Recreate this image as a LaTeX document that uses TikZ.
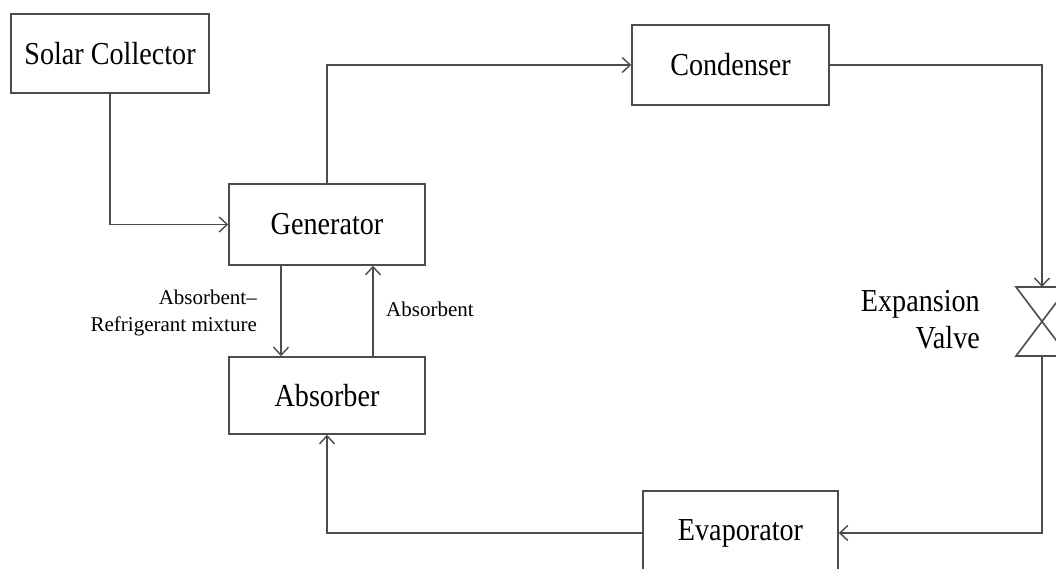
\documentclass[tikz,border=0pt]{standalone}
\usepackage{fontspec}
\setmainfont{Liberation Serif}
\usetikzlibrary{arrows.meta}
\newcommand{\mtx}[1]{\scalebox{0.88}[1]{\fontsize{32}{36}\selectfont #1}}
\newcommand{\stx}[1]{{\fontsize{21}{27}\selectfont #1}}
\tikzset{
  box/.style={draw=black!70, line width=1.6pt, rectangle, inner sep=0pt, fill=white},
  flow/.style={draw=black!70, line width=1.6pt, -{Straight Barb[length=8pt,width=15pt,line width=1.4pt]}},
  plain/.style={draw=black!70, line width=1.6pt},
}
\begin{document}
\begin{tikzpicture}[x=1pt,y=-1pt]
\useasboundingbox (0,0) rectangle (1056,569);
\clip (0,0) rectangle (1056,569);
\fill[white] (0,0) rectangle (1056,569);
% boxes
\node[box, minimum width=198pt, minimum height=79pt] (solar) at (110,53.5) {\mtx{Solar Collector}};
\node[box, minimum width=196pt, minimum height=81pt] (gen) at (327,224.5) {\mtx{Generator}};
\node[box, minimum width=196pt, minimum height=77pt] (abs) at (327,395.5) {\mtx{Absorber}};
\node[box, minimum width=197pt, minimum height=80pt] (cond) at (730.5,65) {\mtx{Condenser}};
\node[box, minimum width=195pt, minimum height=84pt] (evap) at (740.5,533) {\raisebox{4pt}{\mtx{Evaporator}}};
% expansion valve
\coordinate (vtop) at (1042,287);
\coordinate (vbot) at (1042,356);
\draw[plain, line join=miter] (1016,287) -- (1068,287) -- (1016,356) -- (1068,356) -- cycle;
\node[anchor=east, inner sep=0pt] (vlabel) at (980,323)
  {\mtx{\begin{tabular}{@{}r@{}}Expansion\\[1pt]Valve\end{tabular}}};
% connectors
\draw[flow] (solar.south) |- (gen.west);
\draw[flow] (gen.north) |- (cond.west);
\draw[flow] (cond.east) -| (vtop);
\draw[flow] (vbot) |- (evap.east);
\draw[flow] (evap.west) -| (abs.south);
\draw[flow] ([xshift=-46pt]gen.south) -- ([xshift=-46pt]abs.north);
\draw[flow] ([xshift=46pt]abs.north) -- ([xshift=46pt]gen.south);
% labels
\node[anchor=east, inner sep=0pt] (lmix) at (257,313)
  {\stx{\begin{tabular}{@{}r@{}}Absorbent--\\[0pt]Refrigerant mixture\end{tabular}}};
\node[anchor=west, inner sep=0pt] (labs) at (386,309) {\stx{Absorbent}};
\end{tikzpicture}
\end{document}
